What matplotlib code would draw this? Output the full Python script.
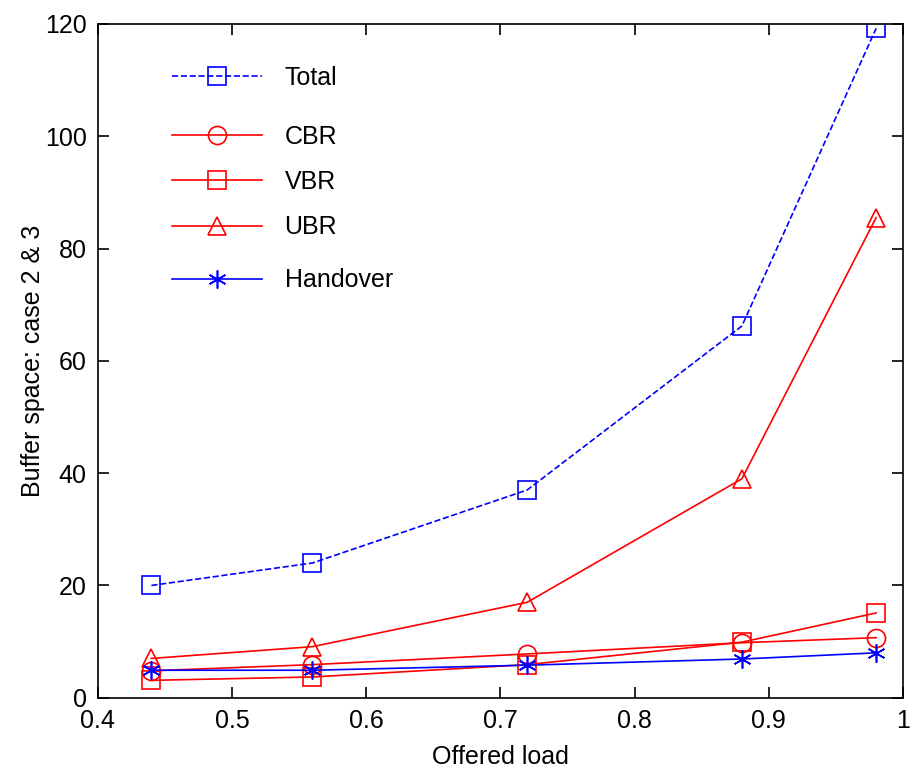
import matplotlib
matplotlib.use('Agg')
import matplotlib.pyplot as plt

plt.rcParams['font.family'] = ['Liberation Sans', 'DejaVu Sans']

load = [0.44, 0.56, 0.72, 0.88, 0.98]
total = [20, 24, 37, 66.2, 119.2]
cbr = [4.8, 5.9, 7.8, 9.8, 10.7]
vbr = [3.1, 3.7, 5.9, 9.9, 15.1]
ubr = [7.0, 9.1, 17.0, 39.0, 85.5]
handover = [4.9, 4.9, 5.8, 6.9, 8.0]

fig = plt.figure(figsize=(9.13, 7.71), dpi=100)
ax = fig.add_axes([0.107, 0.095, 0.882, 0.874])

lw = 1.2
ms = 13
h_total, = ax.plot(load, total, 'b--', marker='s', ms=ms, mfc='none', lw=lw, mew=lw, label='Total')
h_cbr, = ax.plot(load, cbr, 'r-', marker='o', ms=ms, mfc='none', lw=lw, mew=lw, label='CBR')
h_vbr, = ax.plot(load, vbr, 'r-', marker='s', ms=ms, mfc='none', lw=lw, mew=lw, label='VBR')
h_ubr, = ax.plot(load, ubr, 'r-', marker='^', ms=ms, mfc='none', lw=lw, mew=lw, label='UBR')
# asterisk with a vertical stroke, like MATLAB's '*'
h_ho, = ax.plot(load, handover, 'b-', marker=(6, 2, 0), ms=ms, lw=lw, mew=lw, label='Handover')

ax.set_xlim(0.4, 1.0)
ax.set_ylim(0, 120)
ax.set_xticks([0.4, 0.5, 0.6, 0.7, 0.8, 0.9, 1.0])
ax.set_xticklabels(['0.4', '0.5', '0.6', '0.7', '0.8', '0.9', '1'])
ax.set_yticks(range(0, 121, 20))
ax.tick_params(direction='in', top=True, right=True, labelsize=18, length=8, width=1.2, pad=8)
for s in ax.spines.values():
    s.set_linewidth(1.2)
ax.set_xlabel('Offered load', fontsize=18, labelpad=9)
ax.set_ylabel('Buffer space: case 2 & 3', fontsize=18, labelpad=0)

kw = dict(frameon=False, fontsize=18, handlelength=3.6, handletextpad=0.9, borderaxespad=0)
leg1 = ax.legend(handles=[h_total], loc='upper left', bbox_to_anchor=(0.08, 0.952), **kw)
ax.add_artist(leg1)
leg2 = ax.legend(handles=[h_cbr, h_vbr, h_ubr], loc='upper left', bbox_to_anchor=(0.08, 0.865),
                 labelspacing=0.85, **kw)
ax.add_artist(leg2)
ax.legend(handles=[h_ho], loc='upper left', bbox_to_anchor=(0.08, 0.652), **kw)

fig.savefig('out.png', dpi=100)
